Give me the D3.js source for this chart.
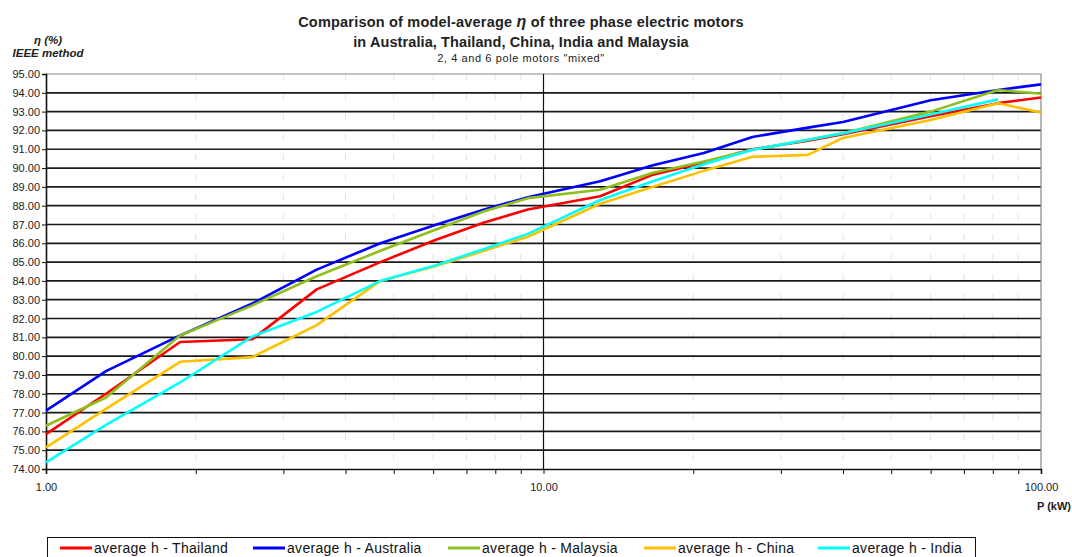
<!DOCTYPE html>
<html>
<head>
<meta charset="utf-8">
<script src="https://cdn.jsdelivr.net/npm/d3@7"></script>
<style>
  body { margin: 0; background: #fff; }
  svg { font-family: "Liberation Sans", Arial, sans-serif; }
</style>
</head>
<body>
<div id="chart"></div>
<script>
// motor power (kW)
const power = [1, 1.32, 1.86, 2.6, 3.5, 4.7, 6.1, 7.6, 9.3, 13, 16.6, 21, 26.3, 34, 40, 60, 82, 100];

const thailand  = [75.85, 78.0, 80.75, 80.9, 83.55, 85.0, 86.2, 87.1, 87.8, 88.5, 89.65, 90.3, 91.0, 91.45, 91.8, 92.75, 93.45, 93.75];
const australia = [77.1, 79.2, 81.1, 82.8, 84.6, 86.0, 87.0, 87.8, 88.45, 89.3, 90.15, 90.8, 91.65, 92.15, 92.45, 93.6, 94.15, 94.45];
const malaysia  = [76.3, 77.8, 81.1, 82.7, 84.25, 85.6, 86.75, 87.7, 88.4, 88.85, 89.75, 90.35, 90.97, 91.5, 91.85, 93.0, 94.15, 93.95];
const china     = [75.15, 77.2, 79.7, 79.95, 81.65, 84.0, 84.8, 85.6, 86.35, 88.1, 89.0, 89.85, 90.6, 90.7, 91.6, 92.55, 93.45, 92.95];
const india     = [74.35, 76.35, 78.6, 81.05, 82.35, 84.0, 84.85, 85.7, 86.5, 88.3, 89.3, 90.2, 90.97, 91.5, 91.85, 92.85, 93.65, null];

const seriesNames  = ["average h - Thailand", "average h - Australia", "average h - Malaysia", "average h - China", "average h - India"];
const seriesColors = ["#ff0000", "#0000ff", "#8fbf1a", "#ffc000", "#00ffff"];
const seriesValues = [thailand, australia, malaysia, china, india];

const yTicks = d3.range(74, 96, 1);
const xMajor = [1, 10, 100];
const xMinor = [2, 3, 4, 5, 6, 7, 8, 9, 20, 30, 40, 50, 60, 70, 80, 90];

const W = 1072, H = 557;
const svg = d3.select("#chart").append("svg")
  .attr("width", W)
  .attr("height", H);

const x = d3.scaleLog().domain([1, 100]).range([46, 1041]);
const y = d3.scaleLinear().domain([74, 95]).range([469, 74]);

// faint dashed minor verticals
svg.append("g")
  .selectAll("line")
  .data(xMinor)
  .join("line")
    .attr("x1", d => x(d)).attr("x2", d => x(d))
    .attr("y1", y(95)).attr("y2", y(74))
    .attr("stroke", "#dde3ee")
    .attr("stroke-width", 1)
    .attr("stroke-dasharray", "6,14");

// horizontal grid
svg.append("g")
  .selectAll("line")
  .data(yTicks.filter(d => d > 74 && d < 95))
  .join("line")
    .attr("x1", x(1)).attr("x2", x(100))
    .attr("y1", d => y(d)).attr("y2", d => y(d))
    .attr("stroke", "#1a1a1a")
    .attr("stroke-width", 1.7);

// frame top / right
svg.append("line")
  .attr("x1", x(1)).attr("x2", x(100))
  .attr("y1", y(95)).attr("y2", y(95))
  .attr("stroke", "#888").attr("stroke-width", 1.2);
svg.append("line")
  .attr("x1", x(100)).attr("x2", x(100))
  .attr("y1", y(95)).attr("y2", y(74))
  .attr("stroke", "#888").attr("stroke-width", 1.2);

// vertical at 10
svg.append("line")
  .attr("x1", x(10)).attr("x2", x(10))
  .attr("y1", y(95)).attr("y2", y(74))
  .attr("stroke", "#111").attr("stroke-width", 1.2);

// y axis
const yAxis = svg.append("g")
  .attr("transform", `translate(${x(1)},0)`)
  .call(d3.axisLeft(y).tickValues(yTicks).tickSize(4).tickFormat(d3.format(".2f")));
yAxis.select(".domain").attr("stroke", "#111").attr("stroke-width", 1.6);
yAxis.selectAll(".tick line").attr("stroke", "#111");
yAxis.selectAll("text")
  .attr("x", -6)
  .style("font-size", "11px")
  .attr("fill", "#222");

// x axis
const xAxis = svg.append("g")
  .attr("transform", `translate(0,${y(74)})`)
  .call(d3.axisBottom(x).tickValues(xMajor.concat(xMinor)).tickSize(5)
    .tickFormat(d => xMajor.includes(d) ? d3.format(".2f")(d) : ""));
xAxis.select(".domain").attr("stroke", "#111").attr("stroke-width", 1.6);
xAxis.selectAll(".tick line").attr("stroke", "#111");
xAxis.selectAll("text")
  .attr("y", 14)
  .style("font-size", "11px")
  .attr("fill", "#222");

// lines
const line = d3.line()
  .defined(d => d[1] != null)
  .x(d => x(d[0]))
  .y(d => y(d[1]));

svg.append("g")
  .selectAll("path")
  .data(seriesValues)
  .join("path")
    .attr("d", vals => line(vals.map((v, i) => [power[i], v])))
    .attr("fill", "none")
    .attr("stroke", (d, i) => seriesColors[i])
    .attr("stroke-width", 2.6)
    .attr("stroke-linejoin", "round");

// titles
const title = svg.append("g").attr("text-anchor", "middle").attr("fill", "#222");
title.append("text")
  .attr("x", 521).attr("y", 27)
  .style("font-size", "14.5px").style("font-weight", "bold").style("letter-spacing", "0.2px")
  .html('Comparison of model-average <tspan font-style="italic" font-size="16px">η</tspan>  of three phase electric motors');
title.append("text")
  .attr("x", 521).attr("y", 47)
  .style("font-size", "14.5px").style("font-weight", "bold").style("letter-spacing", "0.1px")
  .text("in Australia, Thailand, China, India and Malaysia");
title.append("text")
  .attr("x", 521).attr("y", 62)
  .style("font-size", "11px").style("letter-spacing", "0.6px")
  .text('2, 4 and 6 pole motors "mixed"');

svg.append("text")
  .attr("x", 48).attr("y", 44)
  .attr("text-anchor", "middle")
  .style("font-size", "11.5px").style("font-weight", "bold").style("font-style", "italic")
  .attr("fill", "#222")
  .text("η (%)");
svg.append("text")
  .attr("x", 48).attr("y", 57)
  .attr("text-anchor", "middle")
  .style("font-size", "11.5px").style("font-weight", "bold").style("font-style", "italic")
  .attr("fill", "#222")
  .text("IEEE method");

svg.append("text")
  .attr("x", 1071).attr("y", 510)
  .attr("text-anchor", "end")
  .style("font-size", "11px").style("font-weight", "bold")
  .attr("fill", "#222")
  .text("P (kW)");

// legend
const legendX = [60, 253, 448, 644, 818];
svg.append("rect")
  .attr("x", 47.5).attr("y", 537.5)
  .attr("width", 928).attr("height", 30)
  .attr("fill", "none").attr("stroke", "#111");
const leg = svg.append("g")
  .selectAll("g")
  .data(seriesNames)
  .join("g")
    .attr("transform", (d, i) => `translate(${legendX[i]},548)`);
leg.append("line")
  .attr("x1", 0).attr("x2", 32)
  .attr("stroke", (d, i) => seriesColors[i])
  .attr("stroke-width", 3);
leg.append("text")
  .attr("x", 34).attr("y", 5)
  .style("font-size", "14px").style("letter-spacing", "0.3px")
  .attr("fill", "#111")
  .text(d => d);
</script>
</body>
</html>
